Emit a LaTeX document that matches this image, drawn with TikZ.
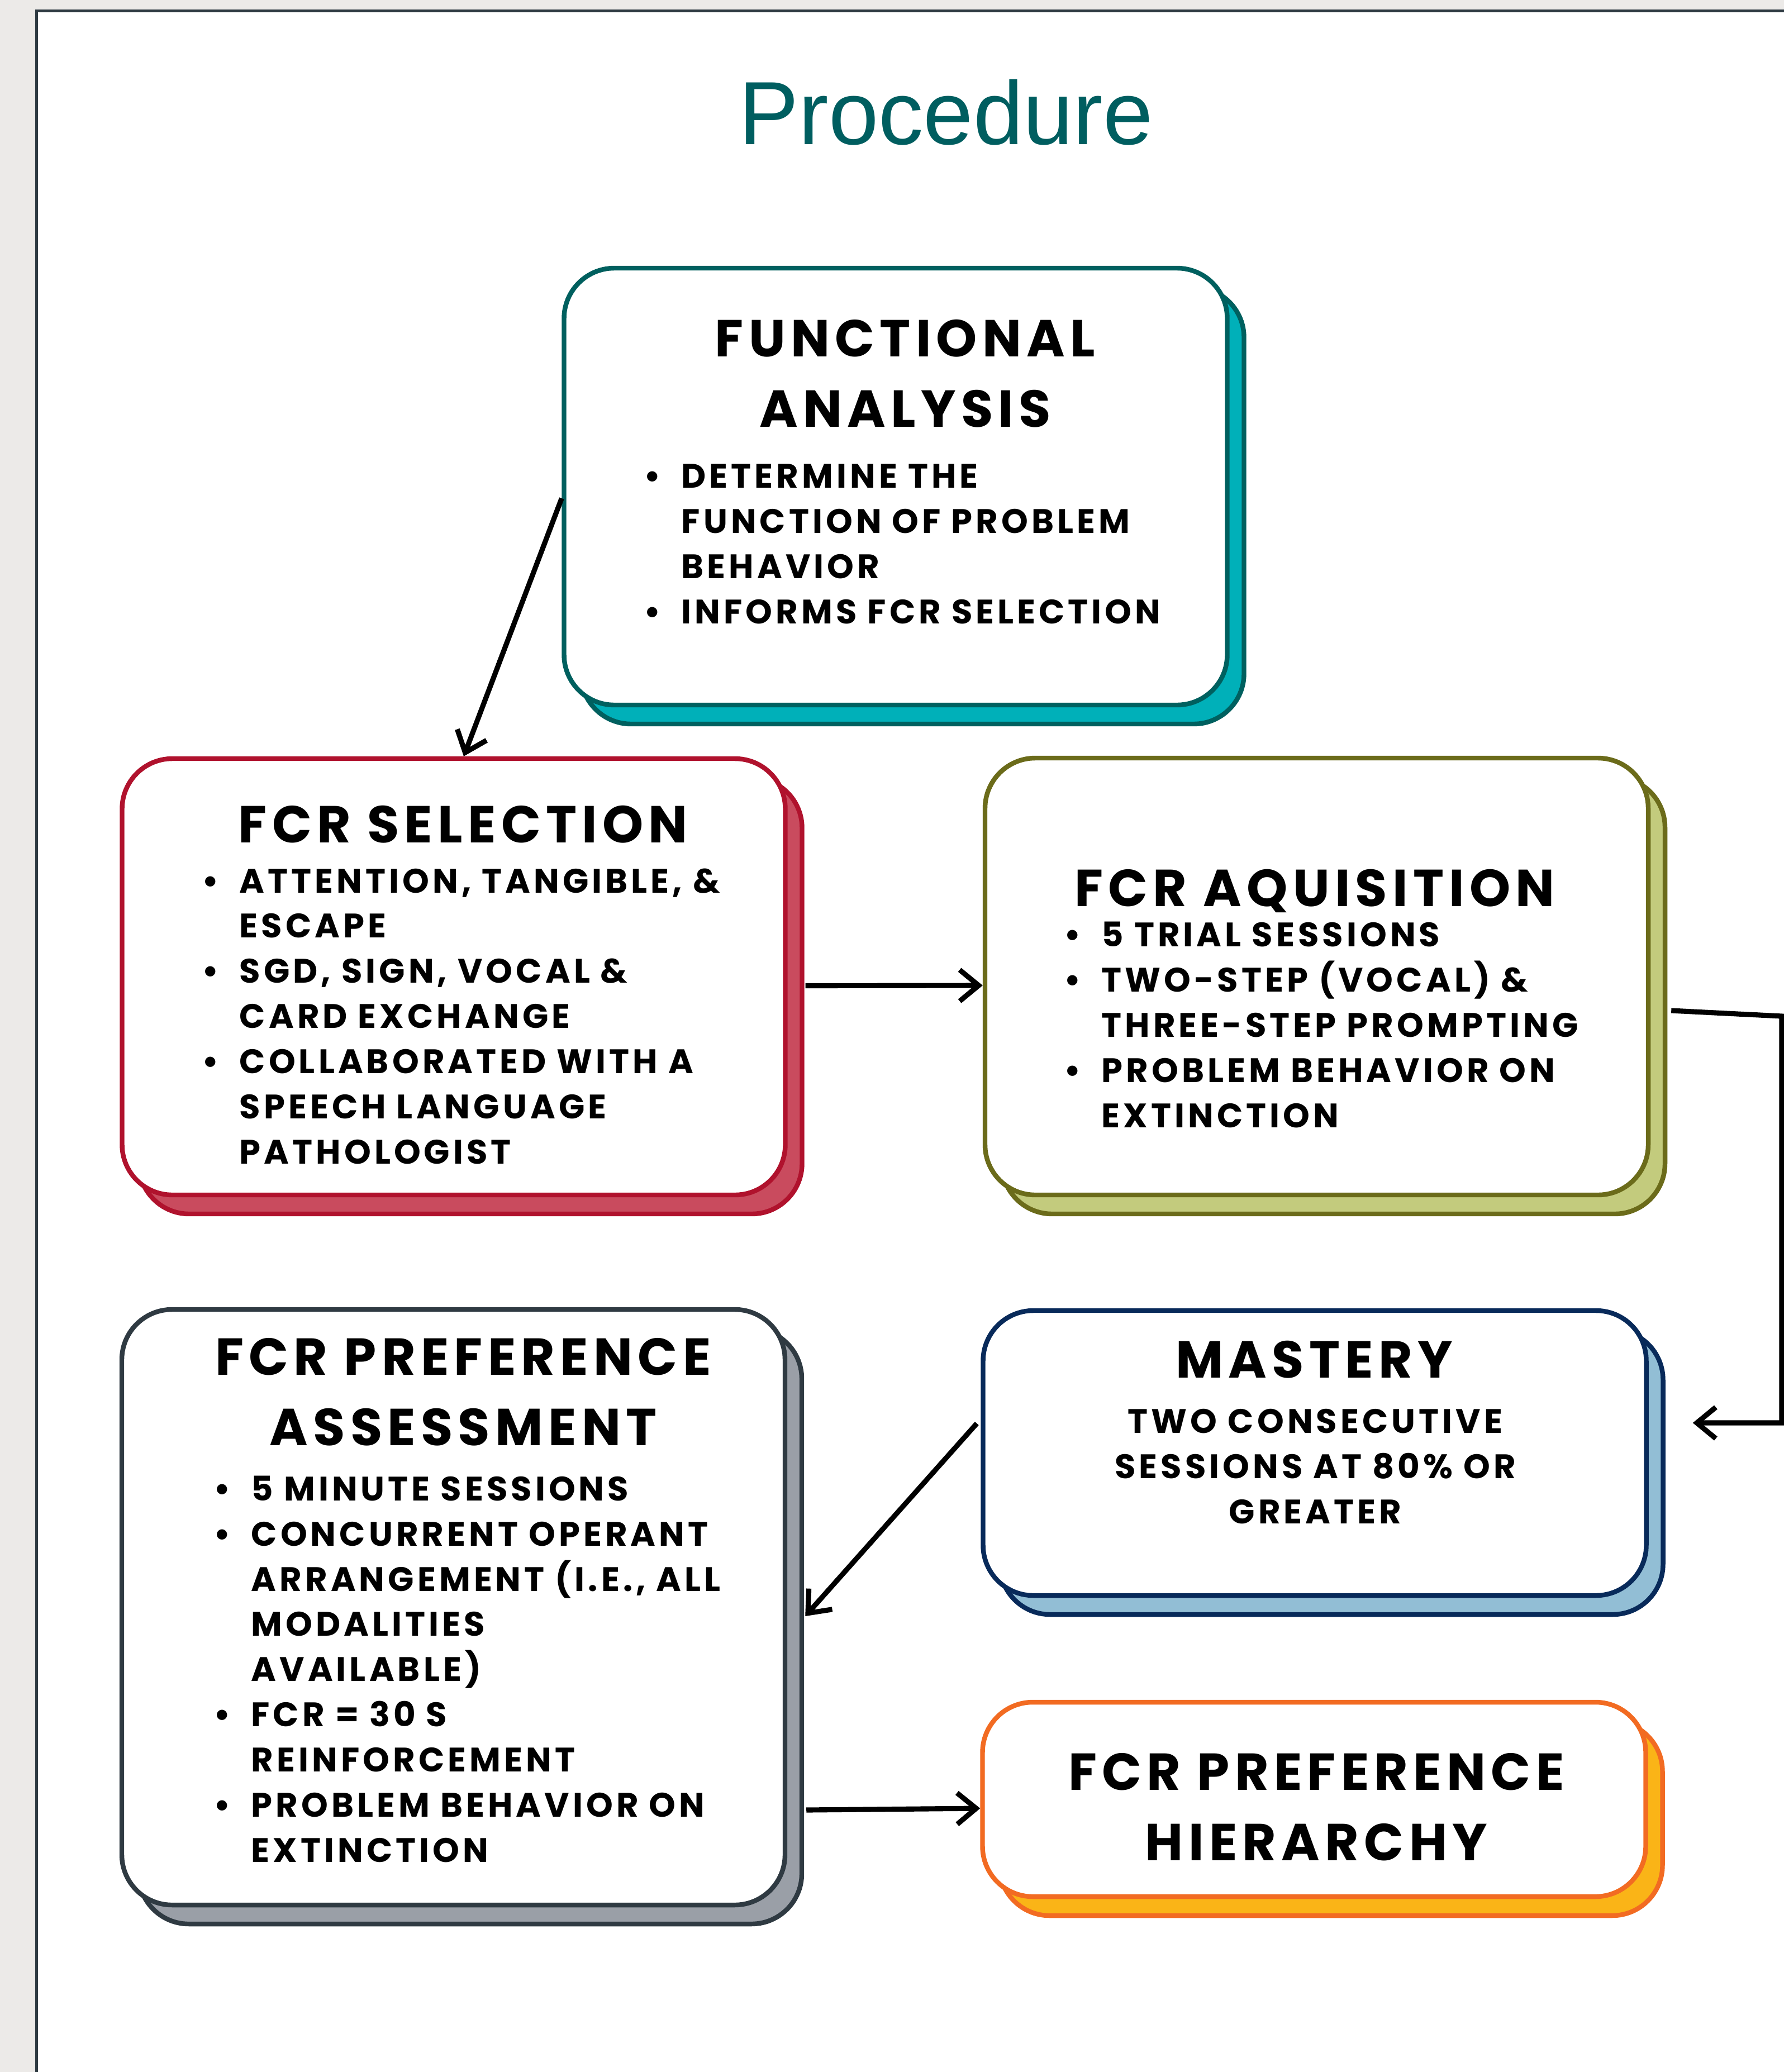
\documentclass[tikz,border=0pt]{standalone}
\usepackage{fontspec}
\setmainfont{Poppins}
\newfontfamily\titlefont{Liberation Sans}
\newfontfamily\boxfont[LetterSpace=10]{Poppins}
\usetikzlibrary{arrows.meta, shadows}

\definecolor{pagegrey}{RGB}{236,234,232}
\definecolor{framegrey}{RGB}{46,58,66}
\definecolor{titleteal}{RGB}{0,94,96}
\definecolor{faline}{RGB}{0,96,95}     \definecolor{fafill}{RGB}{0,176,185}
\definecolor{selline}{RGB}{176,18,45}  \definecolor{selfill}{RGB}{201,75,94}
\definecolor{acqline}{RGB}{107,107,26} \definecolor{acqfill}{RGB}{195,203,125}
\definecolor{masline}{RGB}{8,42,90}    \definecolor{masfill}{RGB}{146,190,213}
\definecolor{prefline}{RGB}{47,58,66}  \definecolor{preffill}{RGB}{154,159,167}
\definecolor{hierline}{RGB}{242,107,34}\definecolor{hierfill}{RGB}{250,180,23}

\newcommand{\itm}{\makebox[0.67cm][l]{\textbullet}}
\newcommand{\cnt}{\hspace*{0.67cm}}

\begin{document}
\begin{tikzpicture}[
  box/.style 2 args = {draw=#1, fill=white, line width=2.4pt,
                       rounded corners=0.9cm, minimum width=11.87cm,
                       general shadow={draw=#1, fill=#2, line width=2.4pt,
                         shadow xshift=0.30cm, shadow yshift=-0.34cm}},
  head/.style = {font=\boxfont\bfseries\fontsize{26.5}{35.6}\selectfont,
                 align=center, inner sep=0pt, anchor=base},
  body/.style = {font=\boxfont\bfseries\fontsize{17.3}{23}\selectfont,
                 align=left, inner sep=0pt, anchor=base west},
  note/.style = {body, align=center, anchor=base},
  arr/.style  = {-{Straight Barb[length=0.34cm, width=0.56cm]}, line width=2.6pt},
]

%% page and frame
\useasboundingbox (0,0) rectangle (31.93,-37.09);
\fill[pagegrey] (0,0) rectangle (31.93,-37.09);
\fill[white] (0.655,-0.195) rectangle (31.93,-37.09);
\draw[framegrey, line width=1.4pt] (0.655,-37.09) -- (0.655,-0.195) -- (31.93,-0.195);

%% title
\node[font=\titlefont\fontsize{45.7}{50}\selectfont, text=titleteal,
      inner sep=0pt, anchor=base] (title) at (16.93,-2.58) {Procedure};

%% boxes
\node[box={faline}{fafill},     minimum height=7.82cm]  (fa)   at (16.03,-8.71)  {};
\node[box={selline}{selfill},   minimum height=7.81cm]  (sel)  at (8.12,-17.485) {};
\node[box={acqline}{acqfill},   minimum height=7.82cm]  (acq)  at (23.565,-17.48) {};
\node[box={masline}{masfill},   minimum height=5.10cm]  (mas)  at (23.53,-26.01) {};
\node[box={prefline}{preffill}, minimum height=10.66cm] (pref) at (8.115,-28.77) {};
\node[box={hierline}{hierfill}, minimum height=3.48cm]  (hier) at (23.52,-32.21) {};

%% functional analysis (base = last line)
\node[head] (fa-head) at (16.20,-7.64) {FUNCTIONAL\\ANALYSIS};
\node[body] (fa-list) at (11.52,-11.16)
  {\itm DETERMINE THE\\\cnt FUNCTION OF PROBLEM\\\cnt BEHAVIOR\\
   \itm INFORMS FCR SELECTION};

%% fcr selection
\node[head] (sel-head) at (8.29,-15.08) {FCR SELECTION};
\node[body] (sel-list) at (3.61,-20.83)
  {\itm ATTENTION, TANGIBLE, \&\\\cnt ESCAPE\\
   \itm SGD, SIGN, VOCAL \&\\\cnt CARD EXCHANGE\\
   \itm COLLABORATED WITH A\\\cnt SPEECH LANGUAGE\\\cnt PATHOLOGIST};

%% fcr aquisition
\node[head] (acq-head) at (23.53,-16.22) {FCR AQUISITION};
\node[body] (acq-list) at (19.04,-20.18)
  {\itm 5 TRIAL SESSIONS\\
   \itm TWO-STEP (VOCAL) \&\\\cnt THREE-STEP PROMPTING\\
   \itm PROBLEM BEHAVIOR ON\\\cnt EXTINCTION};

%% mastery
\node[head] (mas-head) at (23.52,-24.66) {MASTERY};
\node[note] (mas-text) at (23.54,-27.27)
  {TWO CONSECUTIVE\\SESSIONS AT 80\% OR\\GREATER};

%% preference assessment
\node[head] (pref-head) at (8.29,-25.87) {FCR PREFERENCE\\ASSESSMENT};
\node[body] (pref-list) at (3.82,-33.33)
  {\itm 5 MINUTE SESSIONS\\
   \itm CONCURRENT OPERANT\\\cnt ARRANGEMENT (I.E., ALL\\\cnt MODALITIES\\\cnt AVAILABLE)\\
   \itm FCR = 30 S\\\cnt REINFORCEMENT\\
   \itm PROBLEM BEHAVIOR ON\\\cnt EXTINCTION};

%% preference hierarchy
\node[head] (hier-head) at (23.56,-33.30) {FCR PREFERENCE\\HIERARCHY};

%% connectors
\coordinate (turn)   at (31.89,-18.19);
\coordinate (mas-in) at ([xshift=7.9mm,yshift=5.4mm]mas.east);

\draw[arr] ([yshift=-2.1mm]fa.west) -- ([xshift=1.8mm]sel.north);
\draw[arr] ([xshift=3.2mm,yshift=-1.6mm]sel.east) -- ([yshift=-1.6mm]acq.west);
\draw[arr] ([xshift=3.7mm,yshift=-6.1mm]acq.east) -- (turn) |- (mas-in);
\draw[arr] ([xshift=-0.7mm,yshift=5.3mm]mas.west) -- ([xshift=3.2mm,yshift=-1.6mm]pref.east);
\draw[arr] ([xshift=3.4mm,yshift=-36.3mm]pref.east) -- ([yshift=-1.6mm]hier.west);

\end{tikzpicture}
\end{document}
